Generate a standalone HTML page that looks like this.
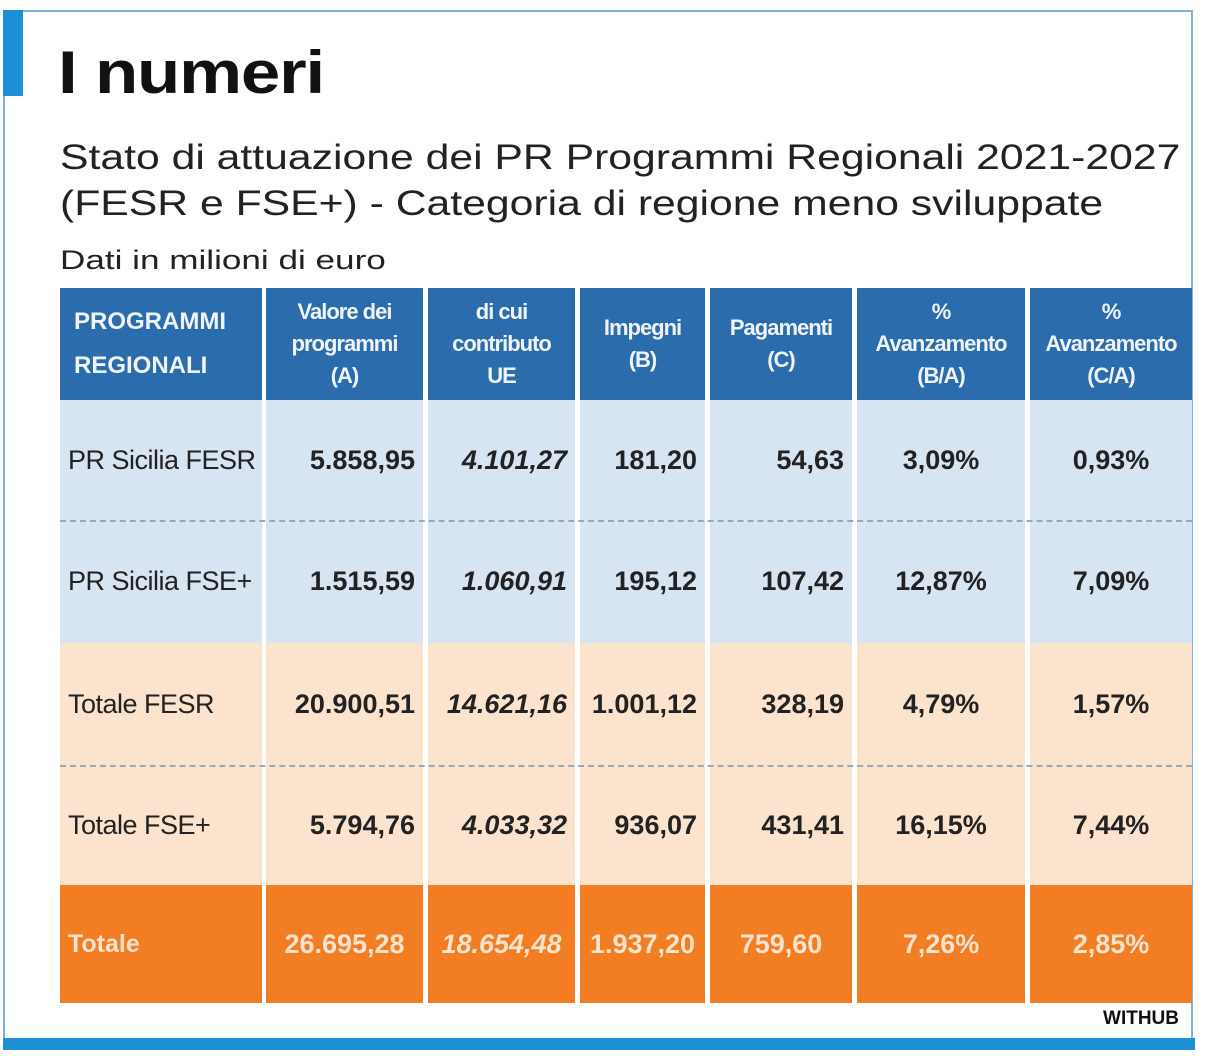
<!DOCTYPE html>
<html><head><meta charset="utf-8"><style>
body{margin:0;width:1207px;height:1056px;background:#fff;position:relative;overflow:hidden;font-family:"Liberation Sans",sans-serif;}
.abs{position:absolute}
.c{position:absolute;display:flex;align-items:center;justify-content:center;text-align:center;box-sizing:border-box}
.h{background:#2b6cad;color:#f0f4fa;font-weight:bold;font-size:22px;line-height:32px;letter-spacing:-1px}
.b{background:#d7e5f3}
.p{background:#fbe3cd}
.o{background:#f27d22;color:#fbe3cd;font-weight:bold;font-size:27px}
.v{font-size:27px;color:#222;font-weight:bold}
.l{justify-content:flex-start;padding-left:8px;font-weight:normal;font-size:27px;color:#222;letter-spacing:-0.5px}
</style></head><body>
<div class="abs" style="left:3px;top:10px;width:1190px;height:1036px;border:2px solid #7fb0d8;box-sizing:border-box"></div>
<div class="abs" style="left:3px;top:10px;width:20px;height:86px;background:#1d8fd6"></div>
<div class="abs" style="left:3px;top:1038px;width:1192px;height:12px;background:#1d8fd6"></div>
<div class="abs" style="left:58px;top:38px;font-size:60px;font-weight:900;color:#111;letter-spacing:-1px;transform:scaleX(1.18);transform-origin:0 0">I numeri</div>
<div class="abs" style="left:60px;top:135px;font-size:35px;color:#222;line-height:46px;white-space:nowrap;transform:scaleX(1.22);transform-origin:0 0">Stato di attuazione dei PR Programmi Regionali 2021-2027<br>(FESR e FSE+) - Categoria di regione meno sviluppate</div>
<div class="abs" style="left:60px;top:245px;font-size:27px;color:#222;white-space:nowrap;transform:scaleX(1.3);transform-origin:0 0">Dati in milioni di euro</div>
<div id="t"></div>
<div class="abs" style="right:28px;top:1008px;font-size:19px;font-weight:900;color:#111">WITHUB</div>
<script>
var xs=[[60,262],[266,423],[428,575],[580,705],[710,852],[857,1025],[1030,1192]];
var ys=[[288,400],[400,520],[520,643],[643,765],[765,885],[885,1003]];
var hd=["PROGRAMMI<br>REGIONALI","Valore dei<br>programmi<br>(A)","di cui<br>contributo<br>UE","Impegni<br>(B)","Pagamenti<br>(C)","%<br>Avanzamento<br>(B/A)","%<br>Avanzamento<br>(C/A)"];
var rows=[["PR Sicilia FESR","5.858,95","4.101,27","181,20","54,63","3,09%","0,93%"],
["PR Sicilia FSE+","1.515,59","1.060,91","195,12","107,42","12,87%","7,09%"],
["Totale FESR","20.900,51","14.621,16","1.001,12","328,19","4,79%","1,57%"],
["Totale FSE+","5.794,76","4.033,32","936,07","431,41","16,15%","7,44%"],
["Totale","26.695,28","18.654,48","1.937,20","759,60","7,26%","2,85%"]];
var h="";
for(var r=0;r<6;r++)for(var c=0;c<7;c++){
 var x=xs[c],y=ys[r],cls,txt,st="";
 if(r==0){cls="h";txt=hd[c];if(c==0)st="justify-content:flex-start;padding-left:14px;text-align:left;font-size:24px;letter-spacing:0;line-height:44px";}
 else{var d=rows[r-1];txt=d[c];cls=(r<=2?"b":r<=4?"p":"o");
  if(r<=4)cls+=c==0?" l":" v";
  if(r==5&&c==0)st="justify-content:flex-start;padding-left:8px;font-size:25px";
  if(c==2)st+="font-style:italic;";
  if(r<=4&&c>0&&c<5)st+="justify-content:flex-end;padding-right:8px;";
 }
 h+='<div class="c '+cls+'" style="left:'+x[0]+'px;top:'+y[0]+'px;width:'+(x[1]-x[0])+'px;height:'+(y[1]-y[0])+'px;'+st+'">'+txt+'</div>';
}
[520,765].forEach(function(y){h+='<div class="abs" style="left:60px;top:'+y+'px;width:1132px;border-top:2px dashed #9aa8b8"></div>';});
document.getElementById("t").outerHTML=h;
</script>
</body></html>
